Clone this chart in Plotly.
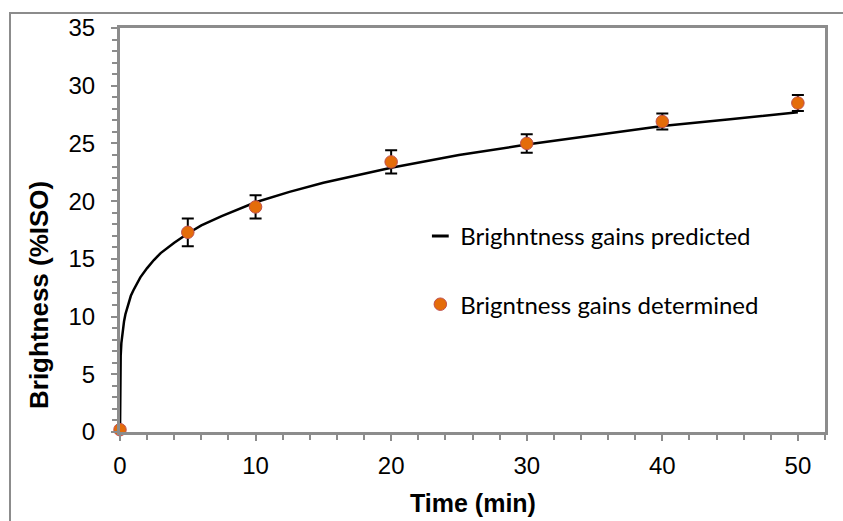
import plotly.graph_objects as go

# Measured data (determined)
time_meas = [0, 5, 10, 20, 30, 40, 50]
bright_meas = [0.2, 17.3, 19.5, 23.4, 25.0, 26.9, 28.5]
bright_err = [0.0, 1.2, 1.0, 1.0, 0.8, 0.7, 0.7]

# Predicted curve
time_pred = [0, 0.001, 0.005, 0.02, 0.05, 0.1, 0.2, 0.3, 0.4, 0.6, 0.8, 1, 1.25, 1.5, 2, 2.5, 3, 4, 5, 6,
             7.5, 10, 12.5, 15, 20, 25, 30, 35, 40, 45, 50]
bright_pred = [0, 2.9, 4.1, 5.5, 6.6, 7.7, 8.8, 9.6, 10.2, 11.1, 11.8, 12.3, 12.9, 13.4, 14.2, 14.9, 15.5,
               16.4, 17.2, 17.9, 18.7, 19.9, 20.8, 21.6, 22.9, 24.0, 24.9, 25.7, 26.5, 27.1, 27.7]

x_ticks = [0, 10, 20, 30, 40, 50]
y_ticks = [0, 5, 10, 15, 20, 25, 30, 35]

GRAY = "#8c8c8c"
ORANGE = "#E46C0A"

fig = go.Figure()

fig.add_trace(go.Scatter(
    x=time_pred, y=bright_pred, mode="lines",
    line=dict(color="black", width=2.5),
    showlegend=False, hoverinfo="skip", cliponaxis=False,
))
# legend stand-in for predicted line (short dash)
fig.add_trace(go.Scatter(
    x=[None], y=[None], mode="markers", name="Brighntness gains predicted",
    marker=dict(symbol="line-ew", size=12, line=dict(color="black", width=3)),
    legendgroup="a",
))
fig.add_trace(go.Scatter(
    x=time_meas, y=bright_meas, mode="markers", name="Brigntness gains determined",
    marker=dict(color=ORANGE, size=12.5, line=dict(color="#C0504D", width=1)),
    error_y=dict(type="data", array=bright_err, visible=True, color="black", thickness=2, width=6),
    legendgroup="b", cliponaxis=False,
))

fig.update_layout(
    width=843, height=521,
    margin=dict(l=120, r=18, t=28, b=89),
    paper_bgcolor="white", plot_bgcolor="white",
    font=dict(family="Liberation Sans, Arial", color="black"),
    showlegend=True,
    legend=dict(
        x=0.426, y=0.40, xanchor="left", yanchor="middle",
        font=dict(family="Lato", size=24, color="black"),
        bgcolor="rgba(0,0,0,0)", tracegroupgap=34, itemwidth=30,
        traceorder="grouped",
    ),
    shapes=[dict(
        type="rect", xref="paper", yref="paper",
        x0=(10 - 120) / 705, x1=1.2, y0=-0.4, y1=(432 - 13) / 404,
        line=dict(color=GRAY, width=2), fillcolor="rgba(0,0,0,0)", layer="below",
    )],
    annotations=[
        dict(text="<b>Brightness (%ISO)</b>", textangle=-90, xref="paper", yref="paper",
             x=(39 - 120) / 705, y=(432 - 295) / 404, xanchor="center", yanchor="middle",
             showarrow=False, font=dict(size=26, family="Liberation Sans, Arial")),
        dict(text="<b>Time (min)</b>", xref="paper", yref="paper",
             x=0.5, y=(432 - 503) / 404, xanchor="center", yanchor="middle",
             showarrow=False, font=dict(size=25, family="Liberation Sans, Arial")),
    ],
)

fig.update_xaxes(
    range=[0, 52], tickvals=x_ticks, ticktext=[str(v) for v in x_ticks],
    showgrid=False, zeroline=False,
    showline=True, linecolor=GRAY, linewidth=3, mirror=True,
    ticks="outside", ticklen=6, tickwidth=2, tickcolor=GRAY,
    minor=dict(dtick=2, tick0=0, ticks="outside", ticklen=5, tickwidth=2, tickcolor=GRAY, showgrid=False),
    tickfont=dict(size=24), ticklabelstandoff=4,
)
fig.update_yaxes(
    range=[0, 35], tickvals=y_ticks, ticktext=[str(v) for v in y_ticks],
    showgrid=False, zeroline=False,
    showline=True, linecolor=GRAY, linewidth=3, mirror=True,
    ticks="outside", ticklen=6, tickwidth=2, tickcolor=GRAY,
    minor=dict(dtick=1, tick0=0, ticks="outside", ticklen=5, tickwidth=2, tickcolor=GRAY, showgrid=False),
    tickfont=dict(size=24), ticklabelstandoff=11,
)

fig.write_html("out.html")
